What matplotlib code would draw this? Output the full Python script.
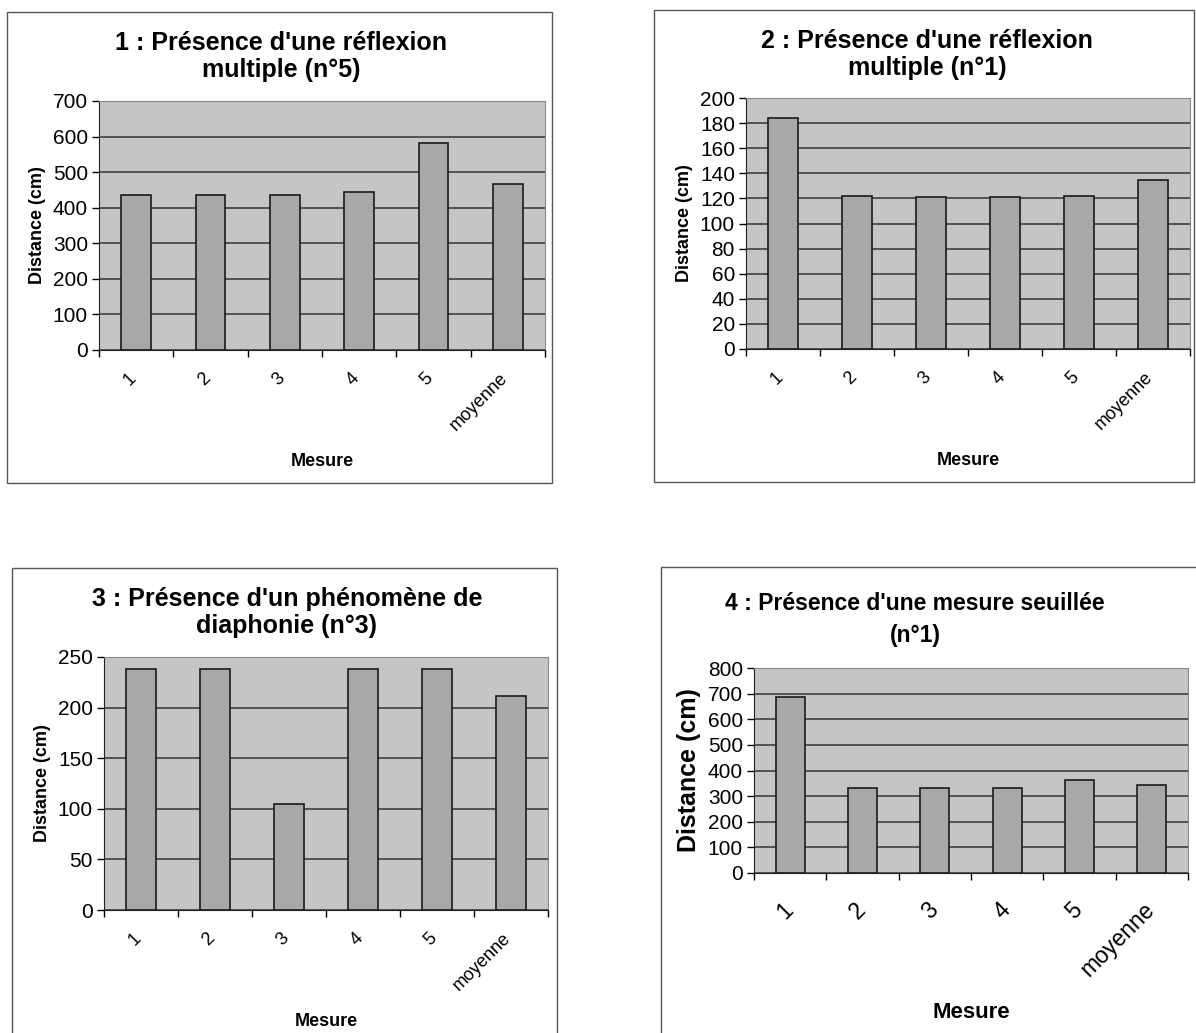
import numpy as np
import matplotlib
matplotlib.use("Agg")
import matplotlib.pyplot as plt
from matplotlib.patches import Rectangle

# ----------------------------------------------------------
# données
# ----------------------------------------------------------
categories = ["1", "2", "3", "4", "5", "moyenne"]

titre_1 = "1 : Présence d'une réflexion\nmultiple (n°5)"
valeurs_1 = [435, 435, 435, 443, 583, 466]
yticks_1 = [0, 100, 200, 300, 400, 500, 600, 700]

titre_2 = "2 : Présence d'une réflexion\nmultiple (n°1)"
valeurs_2 = [184, 122, 121, 121, 122, 135]
yticks_2 = [0, 20, 40, 60, 80, 100, 120, 140, 160, 180, 200]

titre_3 = "3 : Présence d'un phénomène de\ndiaphonie (n°3)"
valeurs_3 = [238, 238, 105, 238, 238, 211]
yticks_3 = [0, 50, 100, 150, 200, 250]

titre_4 = "4 : Présence d'une mesure seuillée\n(n°1)"
valeurs_4 = [688, 330, 332, 332, 362, 343]
yticks_4 = [0, 100, 200, 300, 400, 500, 600, 700, 800]

plt.rcParams["font.family"] = ["Liberation Sans", "DejaVu Sans"]

W, H = 1196, 1033
fig = plt.figure(figsize=(W / 100, H / 100), dpi=100)
fig.patch.set_facecolor("white")

FOND = "#c5c5c5"
BARRE = "#a8a8a8"


def px_rect(x0, y0, x1, y1):
    return [x0 / W, 1 - y1 / H, (x1 - x0) / W, (y1 - y0) / H]


def cadre(x0, y0, x1, y1):
    fig.patches.append(Rectangle((x0 / W, 1 - y1 / H), (x1 - x0) / W, (y1 - y0) / H,
                                 transform=fig.transFigure, fill=False,
                                 edgecolor="#555555", linewidth=1.0))


def graphe(zone, valeurs, yticks, titre, titre_xy, fs_titre=18, fs_tick=15,
           fs_xtick=13, fs_label=13, fs_ylabel=13, pad_x=14, labelpad_x=14,
           interligne=1.15):
    ax = fig.add_axes(px_rect(*zone))
    x = np.arange(len(categories))
    ax.set_facecolor(FOND)
    ax.bar(x, valeurs, width=0.4, color=BARRE, edgecolor="#1a1a1a", linewidth=1.2, zorder=3)
    ax.set_xlim(-0.5, len(categories) - 0.5)
    ax.set_ylim(yticks[0], yticks[-1])
    ax.set_yticks(yticks)
    ax.yaxis.grid(True, color="#333333", linewidth=1.1, zorder=1)
    ax.set_axisbelow(True)

    ax.set_xticks(np.arange(len(categories) + 1) - 0.5)
    ax.set_xticklabels([])
    # étiquettes légèrement à gauche du centre de la catégorie, comme dans Excel
    ax.set_xticks(x - 0.12, minor=True)
    ax.set_xticklabels(categories, minor=True, rotation=45, ha="right",
                       rotation_mode="anchor", fontsize=fs_xtick)
    ax.tick_params(axis="x", which="minor", length=0, pad=pad_x)
    ax.tick_params(axis="x", which="major", length=5, width=1, direction="out")
    ax.tick_params(axis="y", length=5, width=1, direction="out", labelsize=fs_tick, pad=3)

    for s in ["top", "right"]:
        ax.spines[s].set_color("#8a8a8a")
    for s in ["left", "bottom"]:
        ax.spines[s].set_color("#222222")

    ax.set_ylabel("Distance (cm)", fontsize=fs_ylabel, fontweight="bold", labelpad=5)
    ax.set_xlabel("Mesure", fontsize=fs_label, fontweight="bold", labelpad=labelpad_x)

    fig.text(titre_xy[0] / W, 1 - titre_xy[1] / H, titre, ha="center", va="top",
             fontsize=fs_titre, fontweight="bold", linespacing=interligne)
    return ax


# cadres des quatre graphiques
cadre(7, 12, 552, 483)
cadre(654, 10, 1194, 482)
cadre(12, 568, 557, 1040)
cadre(661, 567, 1202, 1040)

graphe((99, 101, 545, 350), valeurs_1, yticks_1, titre_1, (281, 31))
graphe((746, 98, 1190, 349), valeurs_2, yticks_2, titre_2, (927, 29))
graphe((104, 657, 548, 910), valeurs_3, yticks_3, titre_3, (287, 587))
graphe((754, 668, 1188, 873), valeurs_4, yticks_4, titre_4, (915, 592),
       fs_titre=16.5, fs_tick=15, fs_xtick=16.5, fs_label=16, fs_ylabel=18,
       pad_x=18, labelpad_x=15, interligne=1.5)

plt.savefig("out.png", dpi=100)
